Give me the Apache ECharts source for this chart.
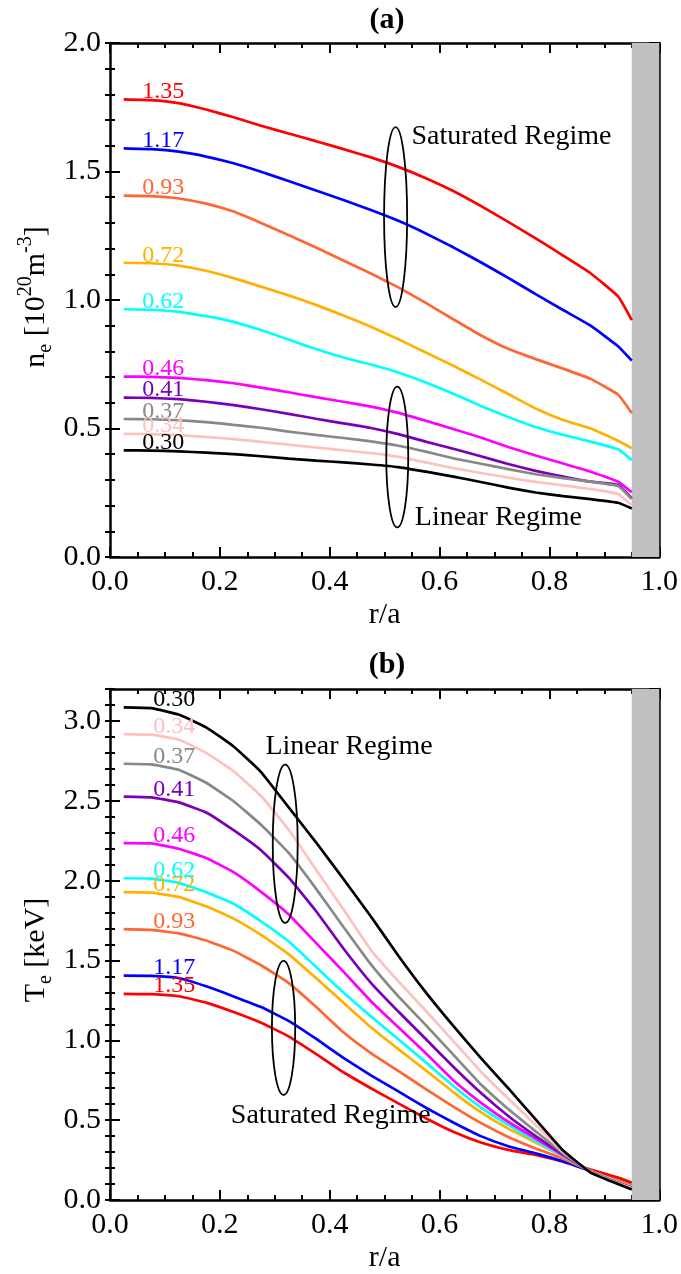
<!DOCTYPE html>
<html>
<head>
<meta charset="utf-8">
<script src="https://cdn.jsdelivr.net/npm/echarts/dist/echarts.min.js"></script>
<style>
  html, body { margin: 0; padding: 0; background: #fff; }
  #main { width: 681px; height: 1274px; }
</style>
</head>
<body>
<div id="main"></div>
<script>
// radial sample positions (r/a)
const R = [0.025, 0.075, 0.125, 0.175, 0.225, 0.275, 0.325, 0.375, 0.425, 0.475,
           0.525, 0.575, 0.625, 0.675, 0.725, 0.775, 0.825, 0.875, 0.925, 0.95];

// curve tags and colours, top to bottom in panel (a)
const TAGS = ['1.35', '1.17', '0.93', '0.72', '0.62', '0.46', '0.41', '0.37', '0.34', '0.30'];
const COLORS = ['#ff0000', '#0000ff', '#ff6633', '#ffb000', '#00ffff', '#ff00ff', '#7a00b8', '#888888', '#ffc0c0', '#000000'];

// (a) electron density n_e [10^20 m^-3]
const NE_135 = [1.781, 1.778, 1.766, 1.741, 1.711, 1.678, 1.648, 1.618, 1.587, 1.555, 1.518, 1.474, 1.424, 1.366, 1.304, 1.240, 1.173, 1.104, 1.014, 0.922];
const NE_117 = [1.590, 1.587, 1.577, 1.558, 1.532, 1.499, 1.463, 1.426, 1.389, 1.350, 1.308, 1.259, 1.205, 1.147, 1.086, 1.023, 0.961, 0.900, 0.820, 0.764];
const NE_093 = [1.406, 1.404, 1.395, 1.375, 1.344, 1.300, 1.253, 1.204, 1.154, 1.103, 1.049, 0.989, 0.925, 0.863, 0.810, 0.770, 0.733, 0.693, 0.632, 0.559];
const NE_072 = [1.145, 1.143, 1.134, 1.114, 1.085, 1.052, 1.018, 0.981, 0.940, 0.896, 0.847, 0.796, 0.744, 0.690, 0.634, 0.578, 0.533, 0.500, 0.452, 0.423];
const NE_062 = [0.964, 0.962, 0.954, 0.937, 0.915, 0.883, 0.846, 0.809, 0.776, 0.749, 0.718, 0.679, 0.635, 0.588, 0.545, 0.506, 0.475, 0.449, 0.419, 0.377];
const NE_046 = [0.702, 0.701, 0.697, 0.688, 0.676, 0.659, 0.641, 0.622, 0.604, 0.585, 0.561, 0.530, 0.498, 0.465, 0.428, 0.395, 0.364, 0.332, 0.293, 0.252];
const NE_041 = [0.620, 0.619, 0.614, 0.604, 0.591, 0.575, 0.557, 0.538, 0.520, 0.502, 0.478, 0.449, 0.421, 0.392, 0.362, 0.335, 0.313, 0.293, 0.280, 0.228];
const NE_037 = [0.537, 0.536, 0.532, 0.525, 0.514, 0.503, 0.488, 0.475, 0.463, 0.450, 0.433, 0.410, 0.384, 0.363, 0.342, 0.322, 0.307, 0.293, 0.276, 0.225];
const NE_034 = [0.479, 0.478, 0.474, 0.467, 0.459, 0.448, 0.437, 0.426, 0.415, 0.404, 0.390, 0.368, 0.346, 0.327, 0.309, 0.292, 0.279, 0.265, 0.245, 0.202];
const NE_030 = [0.415, 0.414, 0.411, 0.406, 0.400, 0.392, 0.383, 0.375, 0.368, 0.360, 0.350, 0.332, 0.313, 0.292, 0.270, 0.251, 0.237, 0.225, 0.211, 0.189];

// (b) electron temperature T_e [keV]
const TE_135 = [1.291, 1.289, 1.276, 1.236, 1.177, 1.110, 1.025, 0.915, 0.800, 0.700, 0.605, 0.512, 0.427, 0.360, 0.314, 0.282, 0.240, 0.190, 0.140, 0.108];
const TE_117 = [1.405, 1.404, 1.390, 1.338, 1.275, 1.208, 1.122, 1.010, 0.890, 0.780, 0.680, 0.578, 0.485, 0.400, 0.337, 0.292, 0.242, 0.182, 0.120, 0.090];
const TE_093 = [1.696, 1.691, 1.670, 1.625, 1.560, 1.470, 1.360, 1.210, 1.050, 0.920, 0.808, 0.695, 0.585, 0.483, 0.395, 0.323, 0.258, 0.183, 0.120, 0.090];
const TE_072 = [1.928, 1.925, 1.898, 1.839, 1.762, 1.660, 1.540, 1.390, 1.236, 1.082, 0.945, 0.812, 0.676, 0.550, 0.447, 0.360, 0.272, 0.181, 0.115, 0.085];
const TE_062 = [2.015, 2.013, 1.986, 1.928, 1.855, 1.745, 1.620, 1.460, 1.300, 1.150, 1.007, 0.862, 0.714, 0.580, 0.470, 0.370, 0.275, 0.180, 0.110, 0.079];
const TE_046 = [2.235, 2.233, 2.200, 2.142, 2.053, 1.930, 1.790, 1.610, 1.430, 1.245, 1.082, 0.919, 0.750, 0.610, 0.490, 0.385, 0.280, 0.179, 0.108, 0.077];
const TE_041 = [2.526, 2.521, 2.490, 2.427, 2.316, 2.190, 2.020, 1.810, 1.575, 1.360, 1.180, 1.008, 0.834, 0.671, 0.526, 0.400, 0.285, 0.178, 0.106, 0.075];
const TE_037 = [2.732, 2.728, 2.694, 2.613, 2.497, 2.350, 2.175, 1.950, 1.710, 1.475, 1.275, 1.095, 0.910, 0.725, 0.570, 0.430, 0.292, 0.177, 0.105, 0.074];
const TE_034 = [2.918, 2.914, 2.884, 2.800, 2.685, 2.530, 2.320, 2.070, 1.820, 1.565, 1.370, 1.185, 0.995, 0.805, 0.635, 0.470, 0.300, 0.175, 0.103, 0.072];
const TE_030 = [3.085, 3.080, 3.040, 2.960, 2.840, 2.680, 2.460, 2.240, 2.010, 1.775, 1.530, 1.300, 1.090, 0.890, 0.700, 0.505, 0.310, 0.172, 0.100, 0.065];

const NE_ALL = [NE_135, NE_117, NE_093, NE_072, NE_062, NE_046, NE_041, NE_037, NE_034, NE_030];
const TE_ALL = [TE_135, TE_117, TE_093, TE_072, TE_062, TE_046, TE_041, TE_037, TE_034, TE_030];

// annotations, in data coordinates: [text, r, value]
const NOTE_A = [['Saturated Regime', 0.549, 1.634], ['Linear Regime', 0.555, 0.152]];
const NOTE_B = [['Linear Regime', 0.283, 2.841], ['Saturated Regime', 0.220, 0.529]];
// ellipses: [r centre, value centre, r radius, value radius]
const OVAL_A = [[0.520, 1.323, 0.021, 0.350], [0.523, 0.389, 0.020, 0.274]];
const OVAL_B = [[0.319, 2.231, 0.0227, 0.496], [0.316, 1.078, 0.0212, 0.420]];

const FONT = '"Liberation Serif", "Times New Roman", serif';
const LABEL_IDX = 1;

const chart = echarts.init(document.getElementById('main'), null, { renderer: 'canvas' });

const tickStyle = { color: '#000', width: 2 };
const fmt1 = v => v.toFixed(1);

function xAxisPair(gi) {
  const base = {
    gridIndex: gi, type: 'value', min: 0, max: 1, interval: 0.2,
    axisLine: { show: true, onZero: false, lineStyle: { color: '#000', width: 2.5 } },
    axisTick: { show: true, inside: true, length: 10, lineStyle: tickStyle },
    minorTick: { show: true, splitNumber: 4, length: 5, lineStyle: tickStyle },
    splitLine: { show: false }, minorSplitLine: { show: false }
  };
  return [
    Object.assign({}, base, {
      position: 'bottom',
      axisLabel: { fontFamily: FONT, fontSize: 30, color: '#000', margin: 10, formatter: fmt1 },
      name: 'r/a', nameLocation: 'middle', nameGap: 43,
      nameTextStyle: { fontFamily: FONT, fontSize: 30, color: '#000' }
    }),
    Object.assign({}, base, { position: 'top', axisLabel: { show: false } })
  ];
}

function yAxisSet(gi, max) {
  const line = { show: true, onZero: false, lineStyle: { color: '#000', width: 2.5 } };
  const major = {
    gridIndex: gi, type: 'value', min: 0, max: max, interval: 0.5,
    axisLine: line,
    axisTick: { show: true, inside: true, length: 10, lineStyle: tickStyle },
    splitLine: { show: false }
  };
  const minor = {
    gridIndex: gi, type: 'value', min: 0, max: max, interval: 0.1,
    axisLine: { show: false },
    axisTick: { show: true, inside: true, length: 5, lineStyle: tickStyle },
    axisLabel: { show: false },
    splitLine: { show: false }
  };
  return [
    Object.assign({}, major, {
      position: 'left',
      axisLabel: { fontFamily: FONT, fontSize: 30, color: '#000', margin: 9, formatter: fmt1, showMaxLabel: max === 2 }
    }),
    Object.assign({}, major, { position: 'right', axisLabel: { show: false } }),
    Object.assign({}, minor, { position: 'left' }),
    Object.assign({}, minor, { position: 'right' })
  ];
}

function buildSeries(all, xi, yi, offX, shade) {
  return all.map((vals, k) => {
    const color = COLORS[k];
    const s = {
      type: 'line', name: TAGS[k], xAxisIndex: xi, yAxisIndex: yi,
      showSymbol: true, symbol: 'circle', symbolSize: 0,
      smooth: 0.12,
      lineStyle: { color: color, width: 2.7 }, itemStyle: { color: color },
      silent: true, z: 3,
      data: R.map((r, i) => i === LABEL_IDX ? {
        value: [r, vals[i]],
        label: {
          show: true, position: 'top', distance: 0, offset: [offX, 4],
          formatter: TAGS[k], color: color, fontFamily: FONT, fontSize: 24
        }
      } : [r, vals[i]])
    };
    if (k === 0) {
      s.markArea = {
        silent: true, itemStyle: { color: shade },
        data: [[{ xAxis: 0.95 }, { xAxis: 1 }]]
      };
    }
    return s;
  });
}

const option = {
  animation: false,
  backgroundColor: '#fff',
  grid: [
    { left: 110, top: 43, width: 550, height: 514 },
    { left: 110, top: 689, width: 550, height: 514 }
  ],
  xAxis: xAxisPair(0).concat(xAxisPair(1)),
  yAxis: yAxisSet(0, 2).concat(yAxisSet(1, 3.2)),
  series: buildSeries(NE_ALL, 0, 0, 12, '#c0c0c0').concat(buildSeries(TE_ALL, 2, 4, 23, '#c0c0c0'))
};

chart.setOption(option);

// annotation graphics placed through the axes
function notes(list, finder) {
  return list.map(n => {
    const p = chart.convertToPixel(finder, [n[1], n[2]]);
    return {
      type: 'text', x: p[0], y: p[1], z: 10,
      style: { text: n[0], fontFamily: FONT, fontSize: 28, fill: '#000', align: 'left', verticalAlign: 'middle' }
    };
  });
}
function ovals(list, finder) {
  return list.map(o => {
    const c = chart.convertToPixel(finder, [o[0], o[1]]);
    const e = chart.convertToPixel(finder, [o[0] + o[2], o[1] + o[3]]);
    return {
      type: 'ellipse', z: 10,
      shape: { cx: c[0], cy: c[1], rx: Math.abs(e[0] - c[0]), ry: Math.abs(c[1] - e[1]) },
      style: { fill: 'none', stroke: '#000', lineWidth: 1.8 }
    };
  });
}

const fa = { xAxisIndex: 0, yAxisIndex: 0 };
const fb = { xAxisIndex: 2, yAxisIndex: 4 };
const richName = {
  m: { fontFamily: FONT, fontSize: 30, lineHeight: 40, verticalAlign: 'middle', fill: '#000' },
  sub: { fontFamily: FONT, fontSize: 20, lineHeight: 20, verticalAlign: 'bottom', fill: '#000' },
  sup: { fontFamily: FONT, fontSize: 20, lineHeight: 18, verticalAlign: 'top', fill: '#000' }
};

chart.setOption({
  graphic: [
    { type: 'text', x: 387, y: 20, style: { text: '(a)', fontFamily: FONT, fontSize: 30, fontWeight: 'bold', fill: '#000', align: 'center', verticalAlign: 'middle' } },
    { type: 'text', x: 387, y: 665, style: { text: '(b)', fontFamily: FONT, fontSize: 30, fontWeight: 'bold', fill: '#000', align: 'center', verticalAlign: 'middle' } },
    { type: 'text', x: 36, y: 297, rotation: Math.PI / 2,
      style: { text: '{m|n}{sub|e}{m| [10}{sup|20}{m|m}{sup|-3}{m|]}', rich: richName, align: 'center', verticalAlign: 'middle' } },
    { type: 'text', x: 36, y: 950, rotation: Math.PI / 2,
      style: { text: '{m|T}{sub|e}{m| [keV]}', rich: richName, align: 'center', verticalAlign: 'middle' } }
  ].concat(notes(NOTE_A, fa), notes(NOTE_B, fb), ovals(OVAL_A, fa), ovals(OVAL_B, fb))
});
</script>
</body>
</html>
